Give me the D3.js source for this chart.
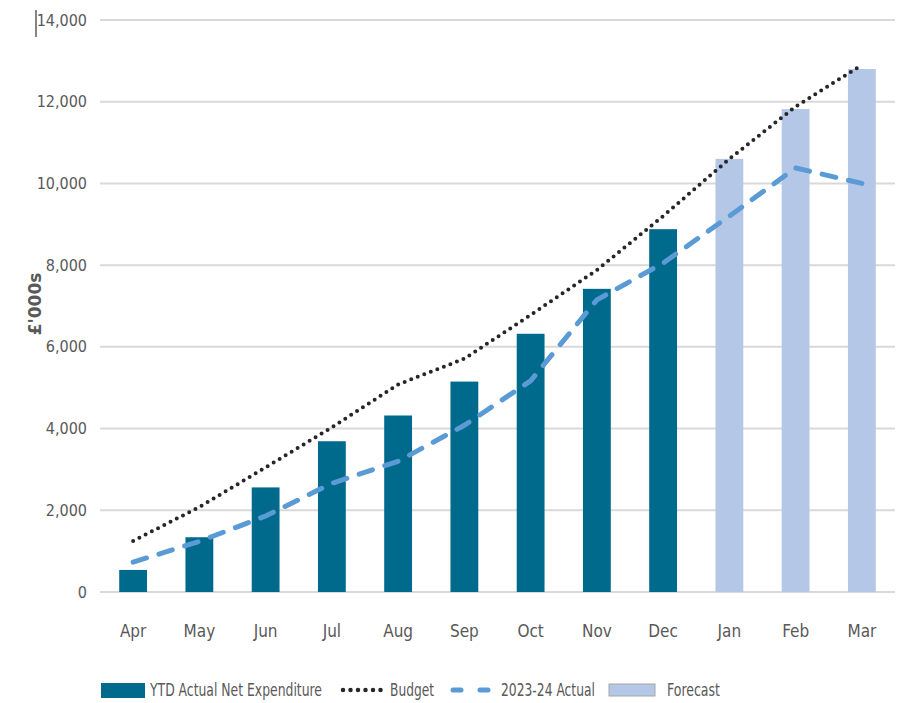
<!DOCTYPE html>
<html>
<head>
<meta charset="utf-8">
<script src="https://cdn.jsdelivr.net/npm/d3@7"></script>
<style>
  body { margin: 0; background: #fff; }
  text { font-family: "DejaVu Sans Condensed", "Liberation Sans Narrow", sans-serif; font-stretch: condensed; fill: #595959; }
</style>
</head>
<body>
<svg id="graph" width="900" height="703"></svg>
<script>
// data
var months = ["Apr","May","Jun","Jul","Aug","Sep","Oct","Nov","Dec","Jan","Feb","Mar"];
var ytdActual = [540, 1340, 2560, 3690, 4320, 5150, 6320, 7420, 8880, null, null, null];
var forecast = [null, null, null, null, null, null, null, null, null, 10600, 11820, 12800];
var budget = [1250, 2080, 3050, 4030, 5080, 5710, 6780, 7880, 9200, 10600, 11880, 12900];
var prevYear = [730, 1240, 1860, 2660, 3200, 4080, 5170, 7150, 8050, 9200, 10380, 10000];
var yTicks = [0, 2000, 4000, 6000, 8000, 10000, 12000, 14000];

var width = 900, height = 703;
const margin = { top: 20, bottom: 111, right: 5, left: 100 };
const innerWidth = width - margin.left - margin.right;
const innerHeight = height - margin.top - margin.bottom;

const svg = d3.select('#graph');
const g = svg.append('g').attr('transform', `translate(${margin.left}, ${margin.top})`);

const x = d3.scaleBand().domain(months).range([0, innerWidth]).paddingInner(0.58).paddingOuter(0.29);
const y = d3.scaleLinear().domain([0, 14000]).range([innerHeight, 0]);

//build bar rows so filtering keeps the right values
const actualRows = months.map((m, i) => ({ m: m, v: ytdActual[i] })).filter(d => d.v != null);
const forecastRows = months.map((m, i) => ({ m: m, v: forecast[i] })).filter(d => d.v != null);

// gridlines
g.selectAll('.grid').data(yTicks).join('line')
    .attr('class', 'grid')
    .attr('x1', 0).attr('x2', innerWidth)
    .attr('y1', d => y(d)).attr('y2', d => y(d))
    .attr('stroke', '#d9d9d9').attr('stroke-width', 2);

// y tick labels
g.selectAll('.ylab').data(yTicks).join('text')
    .attr('class', 'ylab')
    .attr('x', -13).attr('y', d => y(d))
    .attr('dy', '0.35em')
    .attr('text-anchor', 'end')
    .style('font-size', '16px')
    .text(d => d3.format(',')(d));

// bars
g.selectAll('.actualBar').data(actualRows).join('rect')
    .attr('class', 'actualBar')
    .attr('x', d => x(d.m))
    .attr('width', x.bandwidth())
    .attr('y', d => y(d.v))
    .attr('height', d => y(0) - y(d.v))
    .attr('fill', '#006a8c');

g.selectAll('.forecastBar').data(forecastRows).join('rect')
    .attr('class', 'forecastBar')
    .attr('x', d => x(d.m))
    .attr('width', x.bandwidth())
    .attr('y', d => y(d.v))
    .attr('height', d => y(0) - y(d.v))
    .attr('fill', '#b4c7e7');

// lines
const line = d3.line()
    .x((d, i) => x(months[i]) + x.bandwidth() / 2)
    .y(d => y(d));

g.append('path').datum(prevYear)
    .attr('d', line)
    .attr('fill', 'none')
    .attr('stroke', '#5b9bd5')
    .attr('stroke-width', 5)
    .attr('stroke-linecap', 'round')
    .attr('stroke-dasharray', '14,13');

g.append('path').datum(budget)
    .attr('d', line)
    .attr('fill', 'none')
    .attr('stroke', '#262626')
    .attr('stroke-width', 4)
    .attr('stroke-linecap', 'round')
    .attr('stroke-dasharray', '0,7');

// x labels
g.selectAll('.xlab').data(months).join('text')
    .attr('class', 'xlab')
    .attr('x', d => x(d) + x.bandwidth() / 2)
    .attr('y', innerHeight + 45)
    .attr('text-anchor', 'middle')
    .style('font-size', '17px')
    .text(d => d);

// y axis title
svg.append('text')
    .attr('transform', 'rotate(-90)')
    .attr('x', -304).attr('y', 41)
    .attr('text-anchor', 'middle')
    .style('font-family', '"DejaVu Sans", sans-serif')
    .style('font-stretch', 'normal')
    .style('font-weight', 'bold')
    .style('font-size', '17px')
    .text('£\'000s');

// small cursor mark by the top label
svg.append('line').attr('x1', 36).attr('x2', 36).attr('y1', 10).attr('y2', 37)
    .attr('stroke', '#333').attr('stroke-width', 1.2);

// legend
const lg = svg.append('g').attr('transform', 'translate(0,690)');
lg.append('rect').attr('x', 101).attr('y', -7).attr('width', 44).attr('height', 15).attr('fill', '#006a8c');
lg.append('text').attr('x', 150).attr('y', 0).attr('dy', '0.35em').style('font-size', '18px')
    .attr('textLength', 172).attr('lengthAdjust', 'spacingAndGlyphs').text('YTD Actual Net Expenditure');
lg.append('line').attr('x1', 343).attr('x2', 381).attr('y1', 0).attr('y2', 0)
    .attr('stroke', '#262626').attr('stroke-width', 4.5).attr('stroke-linecap', 'round').attr('stroke-dasharray', '0,7.5');
lg.append('text').attr('x', 390).attr('y', 0).attr('dy', '0.35em').style('font-size', '18px')
    .attr('textLength', 44).attr('lengthAdjust', 'spacingAndGlyphs').text('Budget');
lg.append('line').attr('x1', 453).attr('x2', 493).attr('y1', 0).attr('y2', 0)
    .attr('stroke', '#5b9bd5').attr('stroke-width', 5).attr('stroke-linecap', 'round').attr('stroke-dasharray', '8,19');
lg.append('text').attr('x', 501).attr('y', 0).attr('dy', '0.35em').style('font-size', '18px')
    .attr('textLength', 94).attr('lengthAdjust', 'spacingAndGlyphs').text('2023-24 Actual');
lg.append('rect').attr('x', 609).attr('y', -6).attr('width', 46).attr('height', 12)
    .attr('fill', '#b4c7e7').attr('stroke', '#a6a6a6').attr('stroke-width', 1);
lg.append('text').attr('x', 667).attr('y', 0).attr('dy', '0.35em').style('font-size', '18px')
    .attr('textLength', 53).attr('lengthAdjust', 'spacingAndGlyphs').text('Forecast');
</script>
</body>
</html>
